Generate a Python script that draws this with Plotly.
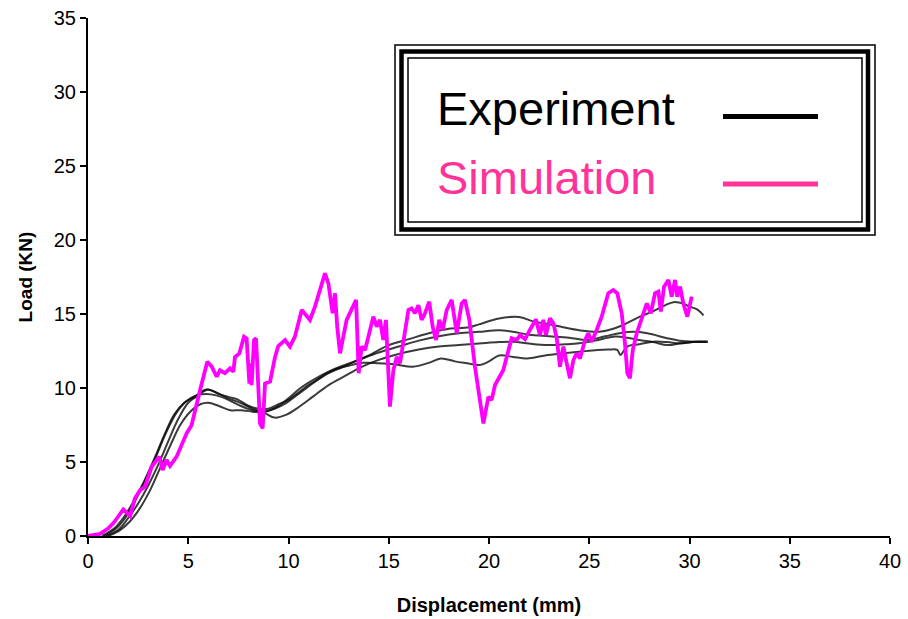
import plotly.graph_objects as go

# ---------------- data ----------------
sim_x = [0, 0.3, 0.6, 1.0, 1.26, 1.5, 1.76, 2.1, 2.34, 2.6, 2.84, 3.18, 3.56, 3.72, 3.92, 4.09, 4.42,
         4.92, 5.17, 5.59, 5.95, 6.17, 6.42, 6.58, 6.83, 7.08, 7.25, 7.33, 7.55, 7.78, 7.91, 8.05, 8.1,
         8.16, 8.28, 8.38, 8.5, 8.58, 8.71, 8.83, 9.08, 9.33, 9.49, 9.83, 10.07, 10.32, 10.66, 11.07,
         11.32, 11.82, 11.99, 12.2, 12.32, 12.43, 12.57, 12.9, 13.37, 13.5, 13.65, 13.82, 14.23, 14.4,
         14.56, 14.73, 14.86, 15.06, 15.23, 15.4, 15.56, 15.98, 16.14, 16.31, 16.48, 16.64, 16.81, 17.02,
         17.19, 17.36, 17.52, 17.69, 17.89, 18.14, 18.39, 18.64, 18.8, 19.02, 19.3, 19.55, 19.72, 19.97,
         20.13, 20.3, 20.71, 21.13, 21.38, 21.55, 21.8, 22.04, 22.34, 22.54, 22.71, 22.84, 23.04, 23.21,
         23.38, 23.54, 23.71, 23.84, 24.04, 24.21, 24.37, 24.54, 24.79, 24.95, 25.12, 25.37, 25.62, 25.95,
         26.2, 26.4, 26.62, 26.78, 26.9, 27.03, 27.17, 27.37, 27.7, 27.87, 28.07, 28.28, 28.45, 28.57,
         28.73, 28.95, 29.11, 29.28, 29.39, 29.53, 29.69, 29.89, 30.11]
sim_y = [0, 0.05, 0.14, 0.5, 0.86, 1.3, 1.8, 1.35, 2.55, 3.1, 3.33, 4.68, 5.36, 4.46, 5.14, 4.73, 5.36,
         6.94, 7.5, 9.86, 11.78, 11.44, 10.76, 11.2, 11.0, 11.33, 11.1, 12.1, 12.34, 13.47, 13.36, 10.3, 11.67,
         10.2, 13.24, 13.36, 9.19, 7.6, 7.27, 10.3, 10.43, 12.1, 12.84, 13.24, 12.8, 13.47, 15.27, 14.6,
         15.5, 17.75, 17.07, 15.05, 16.4, 14.14, 12.34, 14.6, 15.95, 11.0, 12.8, 12.57, 14.82, 14.14,
         14.6, 13.24, 14.6, 8.74, 11.2, 12.1, 11.67, 15.27, 15.38, 15.05, 15.6, 14.6, 15.05, 15.83,
         14.14, 13.24, 14.6, 13.92, 15.27, 15.95, 13.7, 15.72, 15.95, 14.6, 11.44, 8.97, 7.6, 9.41,
         9.19, 10.2, 11.2, 13.36, 13.24, 13.58, 13.29, 13.92, 14.64, 13.58, 14.6, 13.58, 14.71, 14.37,
         13.36, 11.44, 12.8, 11.89, 10.66, 11.89, 12.34, 12.0, 13.24, 13.7, 13.13, 13.92, 14.82, 16.4,
         16.62, 16.4, 15.05, 13.02, 11.0, 10.66, 12.57, 13.7, 14.93, 15.72, 15.05, 16.4, 16.51, 15.16,
         16.85, 17.3, 16.17, 17.3, 16.17, 16.85, 15.72, 14.82, 16.17]

expA_x = [0.9, 1.5, 2.0, 2.5, 3.0, 3.5, 4.0, 4.5, 5.0, 5.5, 6.0, 6.5, 7.0, 7.5, 8.0, 8.5, 9.0, 9.5, 10.0,
          10.5, 11.0, 11.5, 12.0, 12.5, 13.0, 13.5, 14.0, 15.0, 16.0, 17.0, 18.0, 19.0, 19.5, 20.5, 21.5,
          22.2, 23.0, 23.7, 24.5, 25.5, 26.2, 26.9, 27.5, 28.2, 28.8, 29.2, 29.7, 30.0, 30.4, 30.7]
expA_y = [0, 0.4, 1.2, 2.2, 3.4, 4.8, 6.4, 7.9, 9.0, 9.5, 9.9, 9.6, 9.4, 9.2, 8.8, 8.6, 8.6, 8.9, 9.2,
          9.7, 10.2, 10.6, 11.0, 11.3, 11.6, 11.9, 12.2, 12.9, 13.3, 13.7, 14.0, 14.1, 14.3, 14.7, 14.8,
          14.5, 14.3, 14.1, 13.9, 13.8, 14.0, 14.4, 14.8, 15.2, 15.6, 15.8, 15.7, 15.5, 15.3, 14.9]

expB_x = [0.7, 1.3, 1.8, 2.3, 2.8, 3.3, 3.8, 4.3, 4.8, 5.3, 5.9, 6.4, 7.0, 7.6, 8.2, 8.8, 9.4, 10.0, 10.6,
          11.3, 12.0, 12.7, 13.5, 14.5, 15.5, 16.5, 17.5, 18.5, 19.5, 20.5, 21.2, 22.0, 23.0, 24.0, 24.9,
          25.8, 26.5, 27.2, 27.9, 28.9, 29.5, 30.2, 30.9]
expB_y = [0, 0.5, 1.3, 2.4, 3.7, 5.2, 6.8, 8.2, 9.0, 9.4, 9.9, 9.7, 9.3, 9.0, 8.6, 8.4, 8.7, 9.3, 10.0,
          10.6, 11.1, 11.5, 11.9, 12.4, 12.8, 13.2, 13.5, 13.7, 13.8, 13.9, 13.8, 13.6, 13.5, 13.4, 13.24,
          13.5, 13.7, 13.8, 13.7, 13.36, 13.2, 13.13, 13.13]

expC_x = [1.0, 1.6, 2.1, 2.6, 3.1, 3.6, 4.1, 4.6, 5.1, 5.6, 6.0, 6.5, 7.1, 7.6, 8.2, 8.8, 9.3, 9.9, 10.5,
          11.2, 12.0, 12.8, 13.6, 14.5, 15.5, 16.5, 17.5, 18.5, 19.5, 20.5, 21.2, 22.0, 22.9, 23.8, 24.5,
          25.3, 26.2, 26.9, 27.5, 28.2, 28.9, 29.5, 30.2, 30.9]
expC_y = [0, 0.4, 1.0, 1.9, 3.1, 4.6, 6.1, 7.5, 8.4, 8.9, 9.0, 8.8, 8.5, 8.5, 8.4, 8.3, 8.0, 8.2, 8.7,
          9.4, 10.2, 10.8, 11.4, 11.9, 12.3, 12.6, 12.8, 12.9, 13.0, 13.1, 13.13, 13.0, 12.9, 12.95, 13.02,
          13.2, 13.47, 13.4, 13.24, 13.1, 12.9, 13.0, 13.13, 13.13]

expD_x = [0.8, 1.4, 1.9, 2.4, 2.9, 3.4, 3.9, 4.4, 4.9, 5.4, 5.9, 6.4, 7.0, 7.6, 8.2, 8.8, 9.3, 9.9, 10.5,
          11.2, 11.8, 12.4, 13.0, 13.7, 14.5, 15.3, 16.2, 17.0, 17.6, 18.3, 18.9, 19.5, 20.0, 20.5, 21.2,
          21.9, 22.8, 23.7, 24.5, 25.4, 26.0, 26.4, 26.55, 26.9, 27.5, 28.2, 28.9, 29.5, 30.2, 30.9]
expD_y = [0, 0.5, 1.3, 2.5, 3.9, 5.4, 7.0, 8.3, 9.1, 9.5, 9.6, 9.5, 9.2, 8.8, 8.5, 8.4, 8.6, 9.0, 9.6,
          10.3, 10.9, 11.3, 11.5, 11.7, 11.67, 11.6, 11.44, 11.7, 12.0, 11.8, 11.67, 11.55, 11.8, 12.2, 12.1,
          12.0, 12.2, 12.34, 12.45, 12.57, 12.6, 12.57, 12.23, 12.8, 12.95, 13.13, 13.1, 13.02, 13.1, 13.13]

x_ticks = [0, 5, 10, 15, 20, 25, 30, 35, 40]
y_ticks = [0, 5, 10, 15, 20, 25, 30, 35]
legend_labels = ["Experiment", "Simulation"]

# ---------------- figure ----------------
W, H = 908, 619
ML, MR, MT, MB = 88, 18, 18, 83
PW, PH = W - ML - MR, H - MT - MB


def px(xp):
    return (xp - ML) / PW


def py(yp):
    return (H - MB - yp) / PH


fig = go.Figure()
for ex, ey in [(expA_x, expA_y), (expB_x, expB_y), (expC_x, expC_y), (expD_x, expD_y)]:
    fig.add_trace(go.Scatter(x=ex, y=ey, mode="lines", line=dict(color="rgba(10,10,10,0.8)", width=2),
                             line_shape="spline", showlegend=False, hoverinfo="skip"))
fig.add_trace(go.Scatter(x=sim_x, y=sim_y, mode="lines", line=dict(color="#FF00FF", width=3.8),
                         showlegend=False))

shapes = []
# legend box: thin outer, thick middle, thin inner
shapes.append(dict(type="rect", xref="paper", yref="paper", x0=px(395), x1=px(875), y0=py(45), y1=py(235),
                   line=dict(color="black", width=1.5), fillcolor="white", layer="above"))
shapes.append(dict(type="rect", xref="paper", yref="paper", x0=px(401.5), x1=px(868), y0=py(51.5), y1=py(229.5),
                   line=dict(color="black", width=4.5), layer="above"))
shapes.append(dict(type="rect", xref="paper", yref="paper", x0=px(408), x1=px(862), y0=py(58), y1=py(222),
                   line=dict(color="black", width=1.5), layer="above"))
shapes.append(dict(type="line", xref="paper", yref="paper", x0=px(723), x1=px(818), y0=py(116.5), y1=py(116.5),
                   line=dict(color="black", width=5), layer="above"))
shapes.append(dict(type="line", xref="paper", yref="paper", x0=px(723), x1=px(818), y0=py(184), y1=py(184),
                   line=dict(color="#FF3399", width=5), layer="above"))

annotations = [
    dict(text=legend_labels[0], xref="paper", yref="paper", x=px(435), y=py(109), xanchor="left",
         yanchor="middle", showarrow=False, font=dict(family="Liberation Sans, Arial", size=47, color="black")),
    dict(text=legend_labels[1], xref="paper", yref="paper", x=px(435), y=py(177), xanchor="left",
         yanchor="middle", showarrow=False, font=dict(family="Liberation Sans, Arial", size=47, color="#FF3399")),
]

fig.update_layout(
    width=W, height=H,
    margin=dict(l=ML, r=MR, t=MT, b=MB, autoexpand=False),
    paper_bgcolor="white", plot_bgcolor="white",
    font=dict(family="Liberation Sans, Arial", color="black"),
    shapes=shapes, annotations=annotations,
    showlegend=False,
)
fig.update_xaxes(range=[0, 40], tickvals=x_ticks, ticktext=[str(v) for v in x_ticks],
                 showgrid=False, zeroline=False, showline=True, linecolor="black", linewidth=2,
                 ticks="outside", ticklen=6, tickwidth=1.5, tickcolor="black", automargin=False,
                 tickfont=dict(size=20), fixedrange=True,
                 title=dict(text="<b>Displacement (mm)</b>", font=dict(size=20), standoff=27))
fig.update_yaxes(range=[0, 35], tickvals=y_ticks, ticktext=[str(v) for v in y_ticks],
                 showgrid=False, zeroline=False, showline=True, linecolor="black", linewidth=2,
                 ticks="outside", ticklen=6, tickwidth=1.5, tickcolor="black", automargin=False,
                 tickfont=dict(size=20), fixedrange=True,
                 title=dict(text="<b>Load (KN)</b>", font=dict(size=19), standoff=16))

fig.write_html("out.html", config={"displayModeBar": False},
               post_script="document.body.style.margin='0';document.body.style.overflow='hidden';")
